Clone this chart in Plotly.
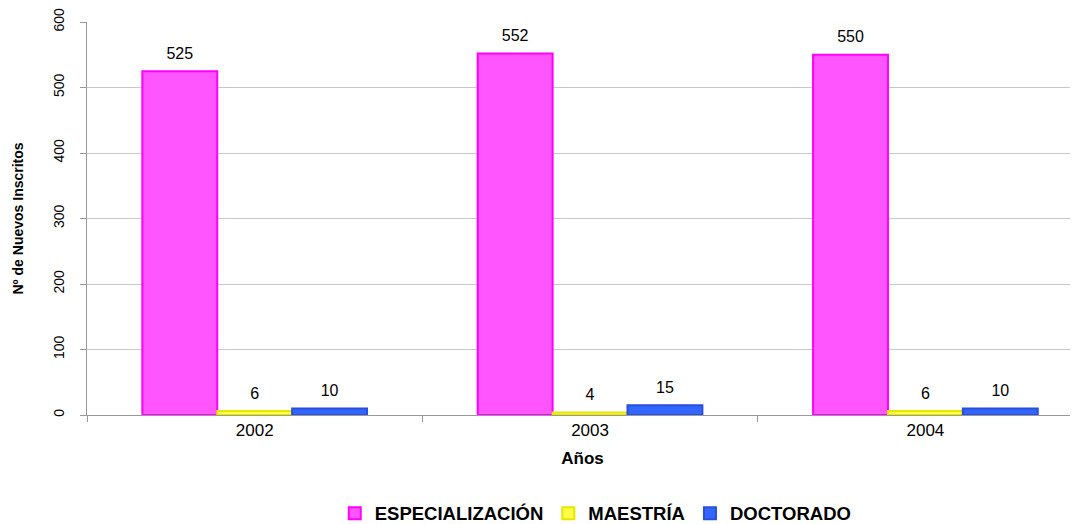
import plotly.graph_objects as go

years = ["2002", "2003", "2004"]
especializacion = [525, 552, 550]
maestria = [6, 4, 6]
doctorado = [10, 15, 10]

series = [
    ("ESPECIALIZACIÓN", especializacion, "#FF55FF", "#FF00FF"),
    ("MAESTRÍA", maestria, "#FFFF44", "#E6E600"),
    ("DOCTORADO", doctorado, "#3366FF", "#2A4FD8"),
]

bargap = 0.33
bar_w = (1 - bargap) / len(series)

fig = go.Figure()
for name, vals, fill, edge in series:
    fig.add_trace(go.Bar(
        x=years, y=vals, name="<b>" + name + "</b>",
        marker=dict(color=fill, line=dict(color=edge, width=2)),
    ))

# value labels on an overlaid numeric axis, centred above each bar of the group
for k, (name, vals, _, _) in enumerate(series):
    off = (k - (len(series) - 1) / 2) * bar_w
    fig.add_trace(go.Scatter(
        x=[i + off for i in range(len(years))], y=vals, xaxis="x2",
        mode="markers+text", text=[str(v) for v in vals], textposition="top center",
        textfont=dict(size=16, color="#000"),
        marker=dict(size=12, color="rgba(0,0,0,0)"),
        showlegend=False, hoverinfo="skip", cliponaxis=False,
    ))

# page body has an 8px default margin, compensate so the plot sits where the reference has it
fig.update_layout(
    width=1070, height=516,
    margin=dict(l=79, r=0, t=12, b=109),
    paper_bgcolor="white", plot_bgcolor="white",
    barmode="group", bargap=bargap, bargroupgap=0,
    font=dict(family="Liberation Sans, Arial, sans-serif", color="#000"),
    showlegend=True,
    legend=dict(orientation="h", x=0.25, xanchor="left",
                yref="container", y=0.02, yanchor="middle",
                font=dict(size=18.5, family="Liberation Sans, Arial, sans-serif"),
                itemwidth=30, traceorder="normal", tracegroupgap=0),
    xaxis2=dict(overlaying="x", range=[-0.5, 2.455], visible=False, showgrid=False,
                zeroline=False),
)
fig.layout.xaxis.update(
    type="category", range=[-0.5, 2.455],
    showline=True, linecolor="#999999", linewidth=1,
    ticks="outside", tickson="boundaries", ticklen=6, tickcolor="#999999",
    tickfont=dict(size=17),
    title=dict(text="<b>Años</b>", font=dict(size=17), standoff=12),
    showgrid=False,
)
fig.update_yaxes(
    range=[0, 600], dtick=100,
    showline=True, linecolor="#999999", linewidth=1,
    ticks="outside", ticklen=6, tickcolor="#999999",
    tickangle=-90, tickfont=dict(size=14), ticklabelstandoff=10,
    ticklabeloverflow="allow",
    showgrid=True, gridcolor="#C8C8C8", gridwidth=1,
    zeroline=False,
    title=dict(text="<b>Nº de Nuevos Inscritos</b>", font=dict(size=14), standoff=24),
)

fig.write_html("out.html")
